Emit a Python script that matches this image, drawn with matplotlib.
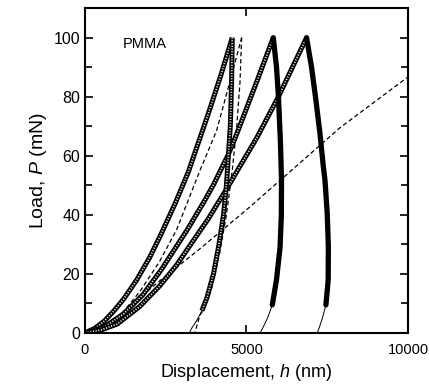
import numpy as np
import matplotlib.pyplot as plt

# loading curves (open squares)
h_load1 = [0, 300, 600, 900, 1200, 1600, 2000, 2320, 2800, 3200, 3820, 4200, 4560]
P_load1 = [0, 1.5, 4, 7.5, 11.5, 17.9, 25.5, 32.6, 44, 54.5, 74.3, 87, 100]

h_load2 = [0, 600, 1200, 1800, 2370, 3200, 3715, 3994, 4440, 4685, 5315, 5830]
P_load2 = [0, 2, 6.5, 13, 21.5, 35.5, 45, 50.5, 60.5, 67, 85, 100]

h_load3 = [0, 500, 1000, 1700, 2320, 2840, 3150, 3810, 4400, 4720, 5315, 5990, 6860]
P_load3 = [0, 1, 3, 9, 16, 23, 28, 38.5, 49, 55, 66, 80, 100]

# unloading curves
h_unl1 = [4560, 4540, 4500, 4440, 4380, 4290, 4150, 3980, 3780, 3620]
P_unl1 = [100, 85, 70, 60, 50, 40, 30, 20, 12, 7.5]
h_tail1 = [3620, 3450, 3300, 3230]
P_tail1 = [7.5, 4, 1.5, 0]

h_unl2 = [5830, 5930, 5990, 6050, 6085, 6080, 6040, 5930, 5800]
P_unl2 = [100, 90, 80, 65, 52, 40, 29, 18, 9.5]
h_tail2 = [5800, 5650, 5520, 5420]
P_tail2 = [9.5, 5, 2, 0]

h_unl3 = [6860, 7015, 7150, 7275, 7380, 7430, 7500, 7535, 7530, 7460]
P_unl3 = [100, 90, 78.8, 67.6, 56.3, 51.8, 40.5, 29.2, 17.9, 9.5]
h_tail3 = [7460, 7350, 7260, 7190]
P_tail3 = [9.5, 5, 2, 0]

# dashed predictions
h_pred_load = [0, 500, 1100, 1700, 2300, 2840, 3560, 4075, 4460, 4850]
P_pred_load = [0, 1.5, 6, 14, 24, 35, 55, 68.5, 84, 100]
h_pred_unl = [4850, 4800, 4700, 4560, 4380, 4170, 3920, 3680, 3560, 3400]
P_pred_unl = [100, 85, 70, 55, 40, 27, 15, 8, 6, 0]
h_line = [1600, 2220, 3560, 5108, 7895, 10000]
P_line = [11, 16.8, 28.5, 42.7, 69.5, 86.7]

plt.rcParams['font.family'] = ['Liberation Sans', 'DejaVu Sans']
plt.rcParams['mathtext.fontset'] = 'custom'
plt.rcParams['mathtext.rm'] = 'Liberation Sans'
plt.rcParams['mathtext.it'] = 'Liberation Sans:italic'

fig = plt.figure(figsize=(4.29, 3.88), dpi=100)
ax = fig.add_axes([0.198, 0.142, 0.753, 0.837])

dash = dict(color='black', lw=0.9, linestyle=(0, (3.5, 2.2)))
ax.plot(h_line, P_line, **dash)
ax.plot(h_pred_load, P_pred_load, **dash)
ax.plot(h_pred_unl, P_pred_unl, **dash)

# open-square bands
for h, P in [(h_load1, P_load1), (h_load2, P_load2), (h_load3, P_load3), (h_unl1, P_unl1)]:
    ax.plot(h, P, color='black', lw=3.6, solid_capstyle='butt', solid_joinstyle='round')
    ax.plot(h, P, color='#eeeeee', lw=1.3, linestyle=(0, (0.6, 0.9)), solid_capstyle='butt')

# solid unloading bands
for h, P in [(h_unl2, P_unl2), (h_unl3, P_unl3)]:
    ax.plot(h, P, color='black', lw=3.8, solid_capstyle='round', solid_joinstyle='round')

for h, P in [(h_tail1, P_tail1), (h_tail2, P_tail2), (h_tail3, P_tail3)]:
    ax.plot(h, P, color='black', lw=0.7)

ax.set_xlim(0, 10000)
ax.set_ylim(0, 110)
ax.set_xticks([0, 5000, 10000])
ax.set_yticks([0, 20, 40, 60, 80, 100])
ax.set_yticks([10, 30, 50, 70, 90, 110], minor=True)
ax.tick_params(which='both', direction='in', top=True, right=True, width=1.2)
ax.tick_params(which='major', length=6)
ax.tick_params(which='minor', length=5)
ax.tick_params(axis='x', pad=7, labelsize=10.5)
ax.tick_params(axis='y', labelsize=11.5)
for s in ax.spines.values():
    s.set_linewidth(1.5)

ax.text(1176, 98, 'PMMA', fontsize=10.5, va='center', ha='left')
ax.set_xlabel('Displacement, $h$ (nm)', fontsize=13)
ax.set_ylabel('Load, $P$ (mN)', fontsize=14, labelpad=3)

fig.savefig('out.png', dpi=100)
